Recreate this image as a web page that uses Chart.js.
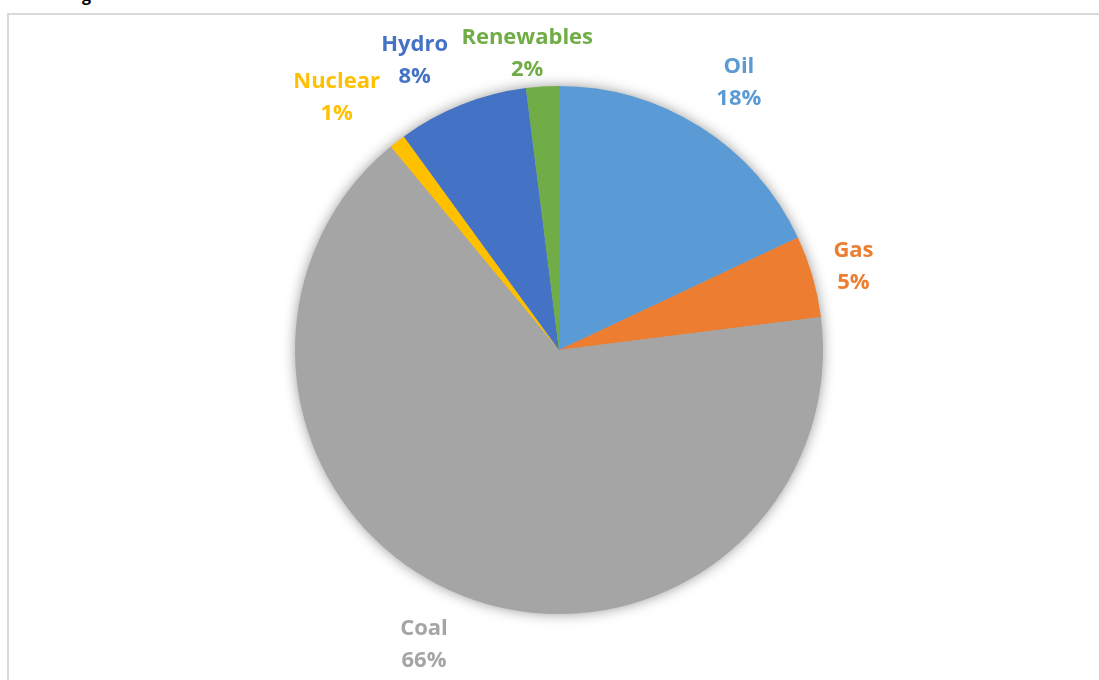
<!DOCTYPE html>
<html>
<head>
<meta charset="utf-8">
<script src="https://cdn.jsdelivr.net/npm/chart.js@4/dist/chart.umd.min.js"></script>
<style>
  html, body { margin: 0; padding: 0; background: #ffffff; overflow: hidden; }
  #frame { position: absolute; left: 7px; top: 13px; width: 1100px; height: 700px; border: 2px solid #d9d9d9; box-sizing: border-box; }
  #cut { position: absolute; left: 82px; top: -16px; font: bold 16px "Open Sans", sans-serif; color: #000; }
  #c { position: absolute; left: 0; top: 0; }
</style>
</head>
<body>
<div id="cut">g</div>
<div id="frame"></div>
<canvas id="c" width="1099" height="680"></canvas>
<script>
const categories = ["Oil", "Gas", "Coal", "Nuclear", "Hydro", "Renewables"];
const shares = [18, 5, 66, 1, 8, 2];
const percentLabels = ["18%", "5%", "66%", "1%", "8%", "2%"];
const colors = ["#5B9BD5", "#ED7D31", "#A5A5A5", "#FFC000", "#4472C4", "#70AD47"];

// layout nudges for label placement (pixels)
const labelNudge = [[9,2],[-4,3],[-18,-1],[-19,10],[-26,10],[-12,18]];

const shadowPlugin = {
  id: 'pieShadow',
  beforeDatasetsDraw(chart) {
    const arc = chart.getDatasetMeta(0).data[0];
    if (!arc) return;
    const ctx = chart.ctx;
    ctx.save();
    ctx.shadowColor = 'rgba(0,0,0,0.45)';
    ctx.shadowBlur = 14;
    ctx.beginPath();
    ctx.arc(arc.x, arc.y, arc.outerRadius - 1, 0, Math.PI * 2);
    ctx.fillStyle = '#A5A5A5';
    ctx.fill();
    ctx.restore();
  }
};

const labelPlugin = {
  id: 'outLabels',
  afterDatasetsDraw(chart) {
    const ctx = chart.ctx;
    const meta = chart.getDatasetMeta(0);
    ctx.save();
    ctx.font = 'bold 22px "Open Sans", sans-serif';
    ctx.textAlign = 'center';
    ctx.textBaseline = 'middle';
    const lineGap = 32;
    const gap = 20;
    meta.data.forEach((arc, i) => {
      const a = (arc.startAngle + arc.endAngle) / 2;
      const l1 = categories[i], l2 = percentLabels[i];
      const w = Math.max(ctx.measureText(l1).width, ctx.measureText(l2).width);
      const h = lineGap + 22;
      const ext = Math.abs(Math.cos(a)) * w / 2 + Math.abs(Math.sin(a)) * h / 2;
      const d = arc.outerRadius + gap + ext;
      const cx = arc.x + Math.cos(a) * d + labelNudge[i][0];
      const cy = arc.y + Math.sin(a) * d + labelNudge[i][1];
      ctx.fillStyle = colors[i];
      ctx.fillText(l1, cx, cy - lineGap / 2);
      ctx.fillText(l2, cx, cy + lineGap / 2);
    });
    ctx.restore();
  }
};

new Chart(document.getElementById('c'), {
  type: 'pie',
  data: {
    labels: categories,
    datasets: [{
      data: shares,
      backgroundColor: colors,
      borderWidth: 0
    }]
  },
  options: {
    responsive: false,
    animation: false,
    layout: { padding: { top: 86, bottom: 66, left: 295, right: 276 } },
    plugins: { legend: { display: false }, tooltip: { enabled: false } }
  },
  plugins: [shadowPlugin, labelPlugin]
});
</script>
</body>
</html>
